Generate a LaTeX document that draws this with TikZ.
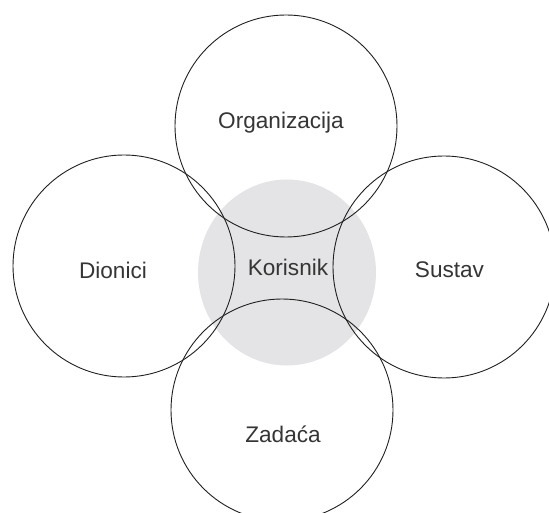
\documentclass[tikz,border=0pt]{standalone}
\usepackage{fontspec}
\setmainfont{Liberation Sans}
\usepackage{xcolor}
\definecolor{korisnikgray}{HTML}{E4E4E6}
\definecolor{ringline}{HTML}{1E1E1E}
\definecolor{labeltext}{HTML}{353535}
\tikzset{
    ring/.style={draw=ringline, line width=0.9pt},
    lbl/.style={anchor=base, inner sep=0pt, text=labeltext, font=\fontsize{22.6}{27}\selectfont}
}
\begin{document}
\begin{tikzpicture}[x=1pt,y=-1pt]
    	\useasboundingbox (0,0) rectangle (549,513);
    	\clip (0,0) rectangle (549,513);

    	\fill[korisnikgray] (287,272.5) ellipse (89 and 93);

    	\draw[ring] (286,126) circle (111);
    	\draw[ring] (124,266) circle (111);
    	\draw[ring] (444,267) circle (111);
    	\draw[ring] (282,410) circle (111);

    	\node[lbl] (organizacija) at (281,129) {Organizacija};
    	\node[lbl] (dionici) at (113,278) {Dionici};
    	\node[lbl] (korisnik) at (288,276) {Korisnik};
    	\node[lbl] (sustav) at (449.5,277) {Sustav};
    	\node[lbl] (zadaca) at (283,442) {Zadaća};
    \end{tikzpicture}
\end{document}
